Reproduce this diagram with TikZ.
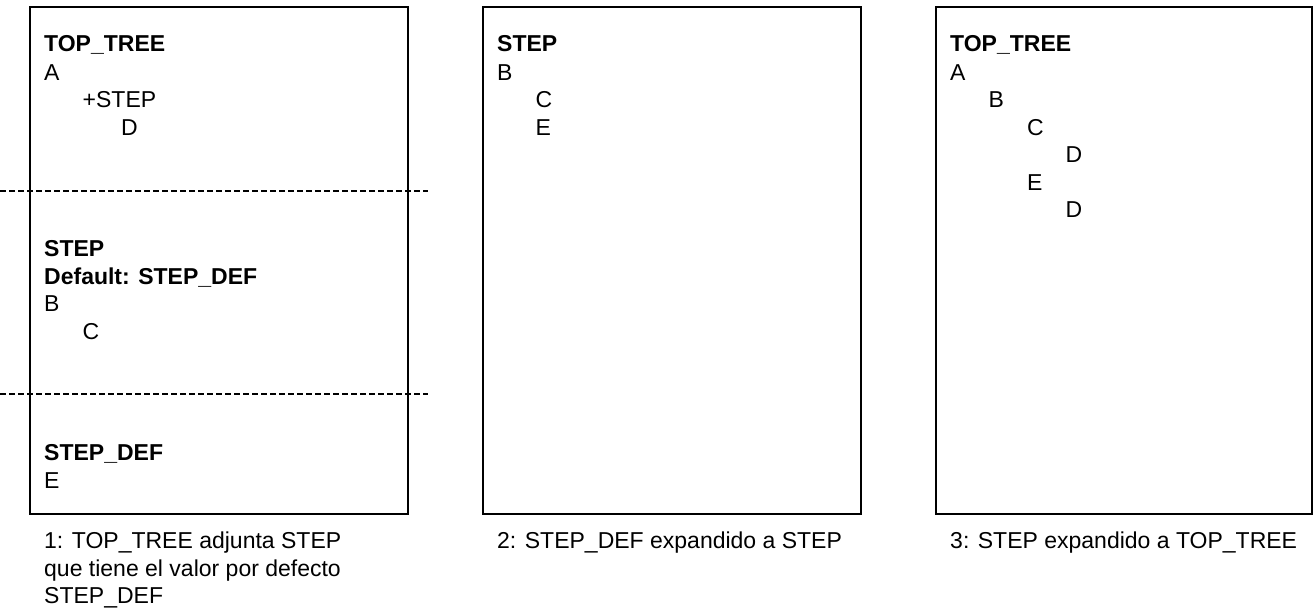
\documentclass[tikz,border=0pt]{standalone}
\usepackage{fontspec}
\setmainfont{Liberation Sans}
\begin{document}
\begin{tikzpicture}[x=1pt,y=-1pt,
  panel/.style={draw, line width=2pt, inner sep=0pt, minimum height=507pt},
  txt/.style={anchor=base west, inner sep=0pt, font=\fontsize{23}{27.6}\selectfont},
  hd/.style={txt, font=\fontsize{23}{27.6}\selectfont\bfseries},
  sepline/.style={line width=2.2pt, black, dash pattern=on 6pt off 3pt}]
\useasboundingbox (0,0) rectangle (1313,610);

% three panels
\node[panel, minimum width=378pt] (p1) at (219,260.5) {};
\node[panel, minimum width=378pt] (p2) at (672,260.5) {};
\node[panel, minimum width=376pt] (p3) at (1124,260.5) {};

% dashed separators across panel 1
\coordinate (s1a) at (0,191);
\coordinate (s1b) at (428,191);
\coordinate (s2a) at (0,394);
\coordinate (s2b) at (428,394);
\draw[sepline] (s1a) -- (s1b);
\draw[sepline] (s2a) -- (s2b);

% panel 1: TOP_TREE
\node[hd]  (t1)  at (44,52)    {TOP\_TREE};
\node[txt] (t1a) at (44,80)    {A};
\node[txt] (t1s) at (82.5,107.5) {+STEP};
\node[txt] (t1d) at (121,135)  {D};

% panel 1: STEP
\node[hd]  (s1)  at (44,256.5) {STEP};
\node[hd]  (s1d) at (44,284)   {Default: STEP\_DEF};
\node[txt] (s1b) at (44,311.5) {B};
\node[txt] (s1c) at (82.5,339) {C};

% panel 1: STEP_DEF
\node[hd]  (d1)  at (44,460.5) {STEP\_DEF};
\node[txt] (d1e) at (44,488)   {E};

% panel 2
\node[hd]  (s2)  at (497,52)     {STEP};
\node[txt] (s2b) at (497,80)     {B};
\node[txt] (s2c) at (535.5,107.5) {C};
\node[txt] (s2e) at (535.5,135)  {E};

% panel 3
\node[hd]  (t3)  at (950,52)     {TOP\_TREE};
\node[txt] (t3a) at (950,80)     {A};
\node[txt] (t3b) at (988.5,107.5) {B};
\node[txt] (t3c) at (1027,135)   {C};
\node[txt] (t3d) at (1065.5,162.5) {D};
\node[txt] (t3e) at (1027,190)   {E};
\node[txt] (t3f) at (1065.5,217.5) {D};

% captions
\node[txt] (c1a) at (44,548.5)  {1: TOP\_TREE adjunta STEP};
\node[txt] (c1b) at (44,576)    {que tiene el valor por defecto};
\node[txt] (c1c) at (44,603.5)  {STEP\_DEF};
\node[txt] (c2)  at (497,548.5) {2: STEP\_DEF expandido a STEP};
\node[txt] (c3)  at (950,548.5) {3: STEP expandido a TOP\_TREE};
\end{tikzpicture}
\end{document}
